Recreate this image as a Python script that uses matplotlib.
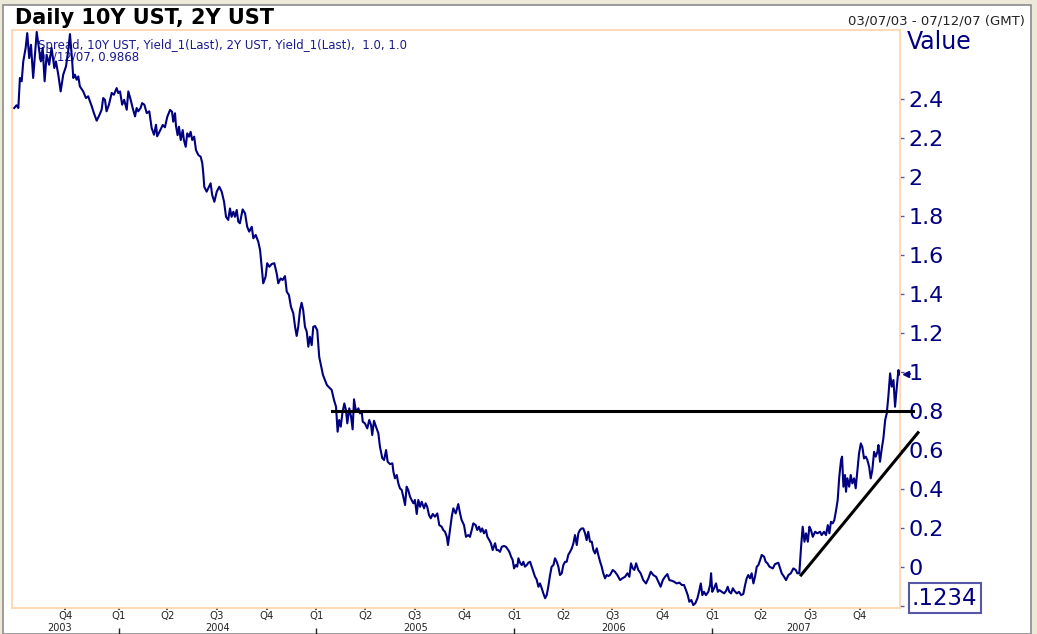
import numpy as np
import matplotlib
matplotlib.use("Agg")
import matplotlib.pyplot as plt
from matplotlib.patches import Rectangle

plt.rcParams['font.family'] = ['DejaVu Sans']

# 10Y UST - 2Y UST spread (decimal year, %)
t = [2003.472, 2003.484, 2003.493, 2003.501, 2003.510, 2003.518, 2003.530, 2003.538, 2003.548, 2003.557,
     2003.568, 2003.577, 2003.586, 2003.599, 2003.607, 2003.616, 2003.626, 2003.636, 2003.649, 2003.661,
     2003.675, 2003.683, 2003.695, 2003.707, 2003.720, 2003.734, 2003.745, 2003.754, 2003.764, 2003.771,
     2003.779, 2003.788, 2003.796, 2003.804, 2003.821, 2003.835, 2003.846, 2003.864, 2003.875, 2003.889,
     2003.902, 2003.914, 2003.922, 2003.931, 2003.939, 2003.951, 2003.965, 2003.976, 2003.990, 2003.998,
     2004.007, 2004.018, 2004.028, 2004.041, 2004.049, 2004.061, 2004.071, 2004.083, 2004.091, 2004.099,
     2004.111, 2004.119, 2004.130, 2004.142, 2004.155, 2004.167, 2004.179, 2004.189, 2004.195,
     2004.209, 2004.223, 2004.234, 2004.246, 2004.260, 2004.270, 2004.276, 2004.285, 2004.290, 2004.298,
     2004.305, 2004.314, 2004.324, 2004.330, 2004.339, 2004.347, 2004.356, 2004.364, 2004.372, 2004.382,
     2004.391, 2004.403, 2004.415, 2004.423, 2004.428, 2004.433, 2004.445, 2004.453, 2004.465, 2004.473,
     2004.484, 2004.496, 2004.509, 2004.521, 2004.533, 2004.543, 2004.554, 2004.563, 2004.571, 2004.580,
     2004.588, 2004.597, 2004.605, 2004.613, 2004.627, 2004.639, 2004.650, 2004.660, 2004.673, 2004.681,
     2004.693, 2004.706, 2004.715, 2004.723, 2004.731, 2004.743, 2004.751, 2004.762, 2004.774, 2004.787,
     2004.799, 2004.807, 2004.819, 2004.829, 2004.841, 2004.850, 2004.861, 2004.871, 2004.883, 2004.892,
     2004.900, 2004.908, 2004.917, 2004.925, 2004.933, 2004.942, 2004.951, 2004.959, 2004.967, 2004.976,
     2004.984, 2004.993, 2005.004, 2005.014, 2005.033, 2005.053,
     2005.077, 2005.089, 2005.099, 2005.107, 2005.115, 2005.123, 2005.131, 2005.141, 2005.149, 2005.156,
     2005.166, 2005.175, 2005.183, 2005.190, 2005.200, 2005.212, 2005.220, 2005.229, 2005.234, 2005.245,
     2005.257, 2005.267, 2005.276, 2005.282, 2005.291, 2005.301, 2005.313, 2005.321, 2005.333, 2005.342,
     2005.352, 2005.360, 2005.372, 2005.384, 2005.389, 2005.397, 2005.406, 2005.414, 2005.422, 2005.431,
     2005.439, 2005.448, 2005.456, 2005.464, 2005.473, 2005.481, 2005.490, 2005.498, 2005.507, 2005.515,
     2005.524, 2005.532, 2005.544, 2005.552, 2005.560, 2005.569, 2005.578, 2005.588, 2005.599, 2005.611,
     2005.621, 2005.633, 2005.641, 2005.650, 2005.659, 2005.665, 2005.675, 2005.684, 2005.692, 2005.704,
     2005.717, 2005.726, 2005.734,
     2005.746, 2005.756, 2005.768, 2005.776, 2005.785, 2005.793, 2005.805, 2005.813, 2005.822, 2005.830,
     2005.838, 2005.847, 2005.857, 2005.864, 2005.874, 2005.882, 2005.891, 2005.903, 2005.911, 2005.919,
     2005.928, 2005.937, 2005.948, 2005.958, 2005.967, 2005.975, 2005.984, 2005.992, 2005.999, 2006.007,
     2006.015, 2006.021, 2006.029, 2006.038, 2006.046, 2006.054, 2006.063, 2006.071, 2006.080, 2006.088,
     2006.096, 2006.105, 2006.113, 2006.122, 2006.130, 2006.139, 2006.147, 2006.156, 2006.164, 2006.172,
     2006.181, 2006.189, 2006.198, 2006.206, 2006.215, 2006.223, 2006.231, 2006.240, 2006.248, 2006.257,
     2006.265, 2006.273, 2006.282, 2006.291, 2006.299, 2006.307, 2006.316, 2006.324, 2006.332, 2006.341,
     2006.349, 2006.358, 2006.366, 2006.374, 2006.383, 2006.392, 2006.400, 2006.408, 2006.417, 2006.425,
     2006.434, 2006.442, 2006.450, 2006.459, 2006.467, 2006.476,
     2006.484, 2006.498, 2006.509, 2006.521, 2006.535, 2006.546, 2006.560, 2006.572, 2006.582, 2006.590,
     2006.599, 2006.607, 2006.616, 2006.627, 2006.639, 2006.652, 2006.666, 2006.678, 2006.690, 2006.703,
     2006.717, 2006.728, 2006.740, 2006.751, 2006.762, 2006.774, 2006.784, 2006.796, 2006.808, 2006.821,
     2006.835, 2006.847, 2006.858, 2006.868, 2006.877, 2006.885, 2006.895, 2006.905, 2006.915, 2006.926,
     2006.934, 2006.943, 2006.951, 2006.959, 2006.969, 2006.981, 2006.990, 2006.995, 2007.001, 2007.010,
     2007.020, 2007.029, 2007.037, 2007.049, 2007.061, 2007.071, 2007.079, 2007.087, 2007.096, 2007.105,
     2007.113, 2007.125, 2007.136, 2007.147, 2007.158, 2007.167, 2007.175, 2007.183, 2007.192, 2007.200,
     2007.209, 2007.217, 2007.226, 2007.234, 2007.243, 2007.251, 2007.263, 2007.271, 2007.280, 2007.290,
     2007.307, 2007.318, 2007.335, 2007.344, 2007.352, 2007.364, 2007.374, 2007.386, 2007.398, 2007.411,
     2007.423, 2007.431, 2007.441, 2007.450, 2007.458, 2007.467, 2007.475, 2007.484, 2007.492, 2007.500,
     2007.509, 2007.521, 2007.532, 2007.546, 2007.554, 2007.566, 2007.576, 2007.585, 2007.593, 2007.601,
     2007.610, 2007.618, 2007.627, 2007.635, 2007.643, 2007.652, 2007.657, 2007.664, 2007.672, 2007.677,
     2007.684, 2007.693, 2007.701, 2007.709, 2007.718, 2007.726, 2007.735, 2007.743, 2007.752, 2007.760,
     2007.768, 2007.777, 2007.785, 2007.794, 2007.802, 2007.810, 2007.819, 2007.827, 2007.836, 2007.841,
     2007.849, 2007.858, 2007.866, 2007.875, 2007.883, 2007.891, 2007.900, 2007.908, 2007.917, 2007.925,
     2007.934, 2007.942, 2007.947]

spread = [2.354, 2.368, 2.354, 2.508, 2.491, 2.593, 2.662, 2.738, 2.610, 2.678,
          2.508, 2.627, 2.744, 2.645, 2.593, 2.662, 2.491, 2.627, 2.576, 2.662,
          2.559, 2.593, 2.525, 2.439, 2.525, 2.568, 2.645, 2.733, 2.610, 2.508,
          2.525, 2.499, 2.516, 2.465, 2.439, 2.405, 2.414, 2.363, 2.328, 2.289,
          2.316, 2.345, 2.405, 2.396, 2.337, 2.371, 2.431, 2.422, 2.456, 2.431,
          2.439, 2.371, 2.396, 2.345, 2.439, 2.396, 2.354, 2.311, 2.354, 2.337,
          2.354, 2.379, 2.371, 2.328, 2.337, 2.251, 2.217, 2.268, 2.209,
          2.237, 2.267, 2.255, 2.309, 2.344, 2.335, 2.284, 2.327, 2.262, 2.215,
          2.258, 2.190, 2.241, 2.190, 2.155, 2.224, 2.207, 2.232, 2.190, 2.207,
          2.138, 2.113, 2.104, 2.070, 2.019, 1.950, 1.925, 1.942, 1.968, 1.908,
          1.873, 1.925, 1.950, 1.925, 1.873, 1.796, 1.780, 1.839, 1.796, 1.822,
          1.796, 1.831, 1.771, 1.763, 1.834, 1.814, 1.745, 1.720, 1.745, 1.686,
          1.703, 1.668, 1.626, 1.540, 1.455, 1.489, 1.558, 1.540, 1.554, 1.558,
          1.506, 1.455, 1.480, 1.472, 1.492, 1.412, 1.395, 1.335, 1.301, 1.232,
          1.185, 1.232, 1.318, 1.355, 1.318, 1.232, 1.207, 1.130, 1.181, 1.138,
          1.232, 1.236, 1.215, 1.078, 0.985, 0.933,
          0.908, 0.856, 0.822, 0.694, 0.754, 0.720, 0.788, 0.839, 0.805, 0.737,
          0.814, 0.771, 0.706, 0.860, 0.796, 0.814, 0.788, 0.796, 0.745, 0.737,
          0.711, 0.754, 0.728, 0.677, 0.750, 0.720, 0.686, 0.617, 0.558, 0.549,
          0.600, 0.540, 0.528, 0.532, 0.489, 0.455, 0.472, 0.429, 0.404, 0.395,
          0.361, 0.318, 0.412, 0.395, 0.361, 0.344, 0.327, 0.344, 0.272, 0.344,
          0.309, 0.335, 0.301, 0.327, 0.309, 0.267, 0.250, 0.272, 0.258, 0.275,
          0.215, 0.207, 0.190, 0.181, 0.155, 0.113, 0.190, 0.258, 0.301, 0.275,
          0.323, 0.275, 0.241,
          0.215, 0.155, 0.164, 0.155, 0.190, 0.224, 0.215, 0.190, 0.207, 0.181,
          0.198, 0.173, 0.190, 0.155, 0.138, 0.122, 0.087, 0.122, 0.087, 0.087,
          0.078, 0.104, 0.108, 0.104, 0.091, 0.078, 0.053, 0.036, -0.007, 0.010,
          0.002, 0.045, 0.022, 0.010, 0.027, 0.002, 0.010, 0.022, 0.027, 0.002,
          -0.024, -0.050, -0.063, -0.101, -0.084, -0.109, -0.135, -0.160, -0.144, -0.101,
          -0.041, 0.002, 0.010, 0.045, 0.027, 0.002, -0.041, -0.032, 0.010, 0.027,
          0.027, 0.062, 0.078, 0.096, 0.122, 0.164, 0.113, 0.173, 0.190, 0.198,
          0.198, 0.173, 0.138, 0.181, 0.130, 0.130, 0.087, 0.070, 0.096, 0.062,
          0.027, 0.002, -0.032, -0.058, -0.041, -0.046,
          -0.041, -0.015, -0.024, -0.041, -0.067, -0.058, -0.050, -0.032, -0.050, 0.019,
          -0.007, -0.015, 0.019, -0.015, -0.032, -0.067, -0.084, -0.058, -0.024, -0.041,
          -0.050, -0.075, -0.101, -0.067, -0.050, -0.036, -0.067, -0.070, -0.075, -0.084,
          -0.080, -0.092, -0.092, -0.118, -0.144, -0.178, -0.169, -0.195, -0.186, -0.160,
          -0.127, -0.084, -0.144, -0.127, -0.144, -0.127, -0.092, -0.032, -0.127, -0.109,
          -0.084, -0.127, -0.118, -0.127, -0.135, -0.122, -0.101, -0.127, -0.135, -0.109,
          -0.122, -0.135, -0.127, -0.144, -0.138, -0.092, -0.058, -0.041, -0.058, -0.032,
          -0.084, -0.050, 0.002, 0.010, 0.036, 0.062, 0.053, 0.027, 0.019, 0.002,
          -0.007, 0.015, 0.022, -0.007, -0.032, -0.050, -0.067, -0.041, -0.032, -0.007,
          -0.015, -0.032, -0.032, 0.104, 0.207, 0.130, 0.173, 0.130, 0.207, 0.190,
          0.155, 0.181, 0.173, 0.181, 0.164, 0.181, 0.164, 0.215, 0.173, 0.232,
          0.224, 0.241, 0.292, 0.344, 0.463, 0.549, 0.566, 0.412, 0.472, 0.386,
          0.455, 0.412, 0.472, 0.429, 0.455, 0.404, 0.497, 0.583, 0.634, 0.614,
          0.557, 0.566, 0.549, 0.514, 0.455, 0.497, 0.591, 0.566, 0.591, 0.626,
          0.540, 0.609, 0.660, 0.754, 0.788, 0.873, 0.993, 0.925, 0.959, 0.822,
          0.925, 1.010, 0.987]

# hand drawn lines on the chart
flat_t = [2005.077, 2008.016]
flat_v = [0.8, 0.8]
trend_t = [2007.450, 2008.041]
trend_v = [-0.041, 0.689]

yticks = [-0.2, 0, 0.2, 0.4, 0.6, 0.8, 1.0, 1.2, 1.4, 1.6, 1.8, 2.0, 2.2, 2.4]
ytick_labels = ['', '0', '0.2', '0.4', '0.6', '0.8', '1', '1.2', '1.4', '1.6', '1.8', '2', '2.2', '2.4']

q_pos = [2003.73, 2004.0, 2004.247, 2004.496, 2004.748,
         2005.0, 2005.247, 2005.496, 2005.748,
         2006.0, 2006.247, 2006.496, 2006.748,
         2007.0, 2007.247, 2007.496, 2007.748]
q_lab = ['Q4', 'Q1', 'Q2', 'Q3', 'Q4', 'Q1', 'Q2', 'Q3', 'Q4',
         'Q1', 'Q2', 'Q3', 'Q4', 'Q1', 'Q2', 'Q3', 'Q4']
years = ['2003', '2004', '2005', '2006', '2007']
year_pos = [2003.703, 2004.5, 2005.5, 2006.5, 2007.44]
year_starts = [2004, 2005, 2006, 2007]

navy = '#000080'
peach = '#FFD3A8'

fig = plt.figure(figsize=(10.37, 6.34), dpi=100)
fig.patch.set_facecolor('#ECE9D8')
fig.patches.append(Rectangle((3/1037, 0), 1028/1037, 629/634, transform=fig.transFigure,
                             facecolor='white', edgecolor='#8c8c8c', lw=1.2, zorder=-1))

ax = fig.add_axes([12/1037, 26/634, 888/1037, 578/634])
ax.set_zorder(2)
ax.set_facecolor('white')

# 本体の線
ax.plot(t, spread, color=navy, lw=1.5, zorder=3)

# 水平線とトレンドライン
ax.plot(flat_t, flat_v, color='black', lw=2.2, clip_on=False, zorder=4)
ax.plot(trend_t, trend_v, color='black', lw=2.2, clip_on=False, zorder=4)

ax.set_xlim(2003.461, 2007.950)
ax.set_ylim(-0.210, 2.754)

for s in ax.spines.values():
    s.set_color(peach)
    s.set_linewidth(1.2)

# y axis on the right
ax.yaxis.tick_right()
ax.set_yticks(yticks, ytick_labels)
ax.tick_params(axis='y', length=3, width=1, color='#5a5aa8', labelsize=16,
               labelcolor=navy, pad=3)

# quarter labels
ax.set_xticks(q_pos, q_lab)
ax.tick_params(axis='x', length=1.5, width=1.5, color='#555555', labelsize=7.3,
               labelcolor='#222222', pad=0.5)

xt = ax.get_xaxis_transform()
for lab, xp in zip(years, year_pos):
    ax.text(xp, -0.0441, lab, transform=xt, ha='center', va='bottom', fontsize=7,
            color='#222222', clip_on=False)
ax.vlines(year_starts, -0.045, -0.034, transform=xt, color='#222222', lw=1, clip_on=False)

# last value marker
ax.plot([2007.981], [0.99], marker='<', ms=5, color=navy, clip_on=False, zorder=5)
ax.plot([2007.981, 2008.003], [0.99, 0.99], color=navy, lw=1.2, clip_on=False, zorder=5)

yt = ax.get_yaxis_transform()
ax.text(1.008, 2.692, 'Value', transform=yt, ha='left', va='center', fontsize=17, color=navy)
ax.text(1.0135, -0.159, '.1234', transform=yt, ha='left', va='center', fontsize=16.5, color=navy,
        bbox=dict(boxstyle='square,pad=0.15', fc='white', ec='#5858a8', lw=1.5))

# legend text
ax.text(0.0293, 0.9725, 'Spread, 10Y UST, Yield_1(Last), 2Y UST, Yield_1(Last),  1.0, 1.0',
        transform=ax.transAxes, ha='left', va='center', fontsize=8.5, color='#1a1a8c', zorder=1)
ax.text(0.0293, 0.9535, '07/12/07, 0.9868', transform=ax.transAxes, ha='left', va='center',
        fontsize=8.5, color='#1a1a8c', zorder=1)

# タイトル
fig.text(15/1037, 1 - 18/634, 'Daily 10Y UST, 2Y UST', ha='left', va='center',
         fontsize=15, fontweight='bold', color='black')
fig.text(1025/1037, 1 - 21/634, '03/07/03 - 07/12/07 (GMT)', ha='right', va='center',
         fontsize=9.5, color='#222222')

fig.savefig('out.png', dpi=100, facecolor=fig.get_facecolor())
